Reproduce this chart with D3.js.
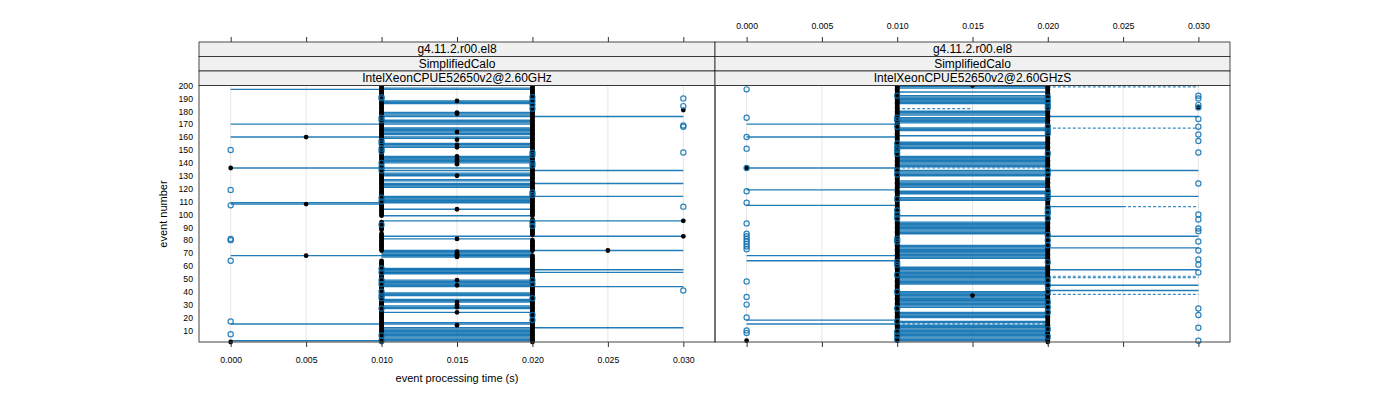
<!DOCTYPE html>
<html><head><meta charset="utf-8">
<script src="https://cdn.jsdelivr.net/npm/d3@7"></script>
<style>body{margin:0;background:#fff}svg{font-family:"Liberation Sans",Arial,sans-serif}</style>
</head><body><svg id="c" width="1400" height="400"></svg>
<script>
// ---------- data ----------
const xTicks = [0.000, 0.005, 0.010, 0.015, 0.020, 0.025, 0.030];
const yTicks = [10,20,30,40,50,60,70,80,90,100,110,120,130,140,150,160,170,180,190,200];
const stripLevels = ["g4.11.2.r00.el8", "SimplifiedCalo"];
const machines = ["IntelXeonCPUE52650v2@2.60GHz", "IntelXeonCPUE52650v2@2.60GHzS"];

// panel 1 (left)
const leftBand = [[198,198],[186,188],[177,179],[171,173],[162,167],[159,159],[152,155],[140,145],[130,132],[126,127],[121,123],[110,113],[104,104],[99,99],[81,81],[67,71],[54,58],[45,49],[37,39],[32,34],[27,29],[24,24],[16,16],[3,11]];
const leftSegs = [[197,0,0.02],[170,0,0.02],[160,0,0.02],[136,0,0.02],[109,0,0.02],[108,0,0.01],[68,0,0.02],[15,0,0.02],[2,0,0.02],
  [176,0.01,0.03],[134,0.01,0.03],[124,0.01,0.03],[114,0.01,0.03],[95,0.01,0.03],[83,0.01,0.03],[72,0.01,0.03],[57,0.01,0.03],[55,0.01,0.03],[44,0.01,0.03],[12,0.01,0.03]];
const leftDashed = [];
const leftBlack010 = [[1,64],[72,85],[88,94],[99,200]];
const leftBlack020 = [[1,68],[72,80],[84,96],[99,200]];
const leftBlackPts = [[160,0.005],[108,0.005],[68,0.005],[136,0],[1,0],[181,0.03],[95,0.03],[83,0.03],[72,0.025],
  [188,0.015],[179,0.015],[178,0.015],[164,0.015],[158,0.015],[154,0.015],[152,0.015],[145,0.015],[143,0.015],[141,0.015],[139,0.015],[130,0.015],[104,0.015],[81,0.015],[71,0.015],[70,0.015],[69,0.015],[68,0.015],[67,0.015],[49,0.015],[45,0.015],[32,0.015],[30,0.015],[28,0.015],[24,0.015],[14,0.015]];
const leftRuns000 = [150,119,107,81,80,64,17,7];
const leftRuns010 = [191,190,175,173,157,155,151,149,140,137,134,113,110,92,58,55,49,46,40,37,35,27,6,2];
const leftRuns020 = [191,188,185,182,148,146,140,138,117,115,94,91,49,46,35,22,18];
const leftRuns030 = [190,184,169,168,148,106,41];

// panel 2 (right)
const rightBand = [[198,200],[195,195],[186,192],[177,180],[171,175],[165,167],[161,161],[151,156],[137,145],[130,134],[121,126],[116,118],[111,113],[99,99],[85,94],[66,76],[46,59],[28,40],[20,24],[16,17],[2,14]];
const rightSegs = [[170,0,0.01],[160,0,0.01],[136,0,0.01],[119,0,0.01],[107,0,0.01],[68,0,0.01],[64,0,0.01],[18,0,0.01],[15,0,0.01],
  [176,0.02,0.03],[134,0.02,0.03],[114,0.02,0.03],[106,0.02,0.025],[83,0.02,0.03],[74,0.02,0.03],[57,0.02,0.03],[45,0.02,0.03],[41,0.02,0.03]];
const rightDashed = [[182,0.01,0.015],[136,0.01,0.02],[15,0.01,0.02],[199,0.02,0.03],[167,0.02,0.03],[52,0.02,0.03],[51,0.02,0.03],[38,0.02,0.03],[106,0.025,0.03]];
const rightBlack010 = [[2,200]];
const rightBlack020 = [[1,200]];
const rightBlackPts = [[200,0.015],[37,0.015],[136,0],[2,0],[183,0.03]];
const rightRuns000 = [197,175,160,151,136,118,109,93,85,83,81,79,77,75,73,48,36,30,20,10,8];
const rightRuns010 = [192,175,173,168,155,152,150,147,134,131,112,103,100,97,81,79,63,61,53,40,27,17,9,6,3];
const rightRuns020 = [191,188,185,183,168,165,163,147,134,131,118,115,113,105,102,101,97,84,80,76,63,49,45,40,32,28,24,11,5];
const rightRuns030 = [192,190,185,183,174,168,162,157,148,124,100,96,89,87,79,72,65,61,55,27,22,12,2];

// ---------- build ----------
function expand(ranges){const o=[];ranges.forEach(([a,b])=>{for(let e=a;e<=b;e++)o.push(e);});return o;}
const panels = [
  {x0:199, w:516, machine:machines[0], band:leftBand, segs:leftSegs, dashed:leftDashed, b010:leftBlack010, b020:leftBlack020, bpts:leftBlackPts,
   runs:[[0,leftRuns000],[0.01,leftRuns010],[0.02,leftRuns020],[0.03,leftRuns030]], bottomLabels:true, topLabels:false},
  {x0:715, w:515, machine:machines[1], band:rightBand, segs:rightSegs, dashed:rightDashed, b010:rightBlack010, b020:rightBlack020, bpts:rightBlackPts,
   runs:[[0,rightRuns000],[0.01,rightRuns010],[0.02,rightRuns020],[0.03,rightRuns030]], bottomLabels:false, topLabels:true}
];
const svg = d3.select("#c");
const plotTop = 85.5, plotBot = 342, stripH = 14.5, nStrips = 3;
const y = d3.scaleLinear().domain([1,200]).range([plotBot, plotTop]);
const BLUE = "#0a6eaf";

panels.forEach((p,pi)=>{
  const x = d3.scaleLinear().domain([-0.0021, 0.0321]).range([p.x0, p.x0+p.w]);
  const g = svg.append("g");
  g.selectAll("line.grid").data(xTicks).join("line")
    .attr("x1",d=>x(d)).attr("x2",d=>x(d)).attr("y1",plotTop).attr("y2",plotBot)
    .attr("stroke","#e6e6e6").attr("stroke-width",1);
  const segs = expand(p.band).map(e=>[e,0.01,0.02]).concat(p.segs);
  g.selectAll("line.seg").data(segs).join("line")
    .attr("x1",d=>x(d[1])).attr("x2",d=>x(d[2])).attr("y1",d=>y(d[0])).attr("y2",d=>y(d[0]))
    .attr("stroke",BLUE).attr("stroke-opacity",0.9).attr("stroke-width",1.4);
  g.selectAll("line.dash").data(p.dashed).join("line")
    .attr("x1",d=>x(d[1])).attr("x2",d=>x(d[2])).attr("y1",d=>y(d[0])).attr("y2",d=>y(d[0]))
    .attr("stroke",BLUE).attr("stroke-opacity",0.8).attr("stroke-width",1.2).attr("stroke-dasharray","3,2");
  const bl = expand(p.b010).map(e=>[e,0.01]).concat(expand(p.b020).map(e=>[e,0.02])).concat(p.bpts);
  g.selectAll("circle.b").data(bl).join("circle")
    .attr("cx",d=>x(d[1])).attr("cy",d=>y(d[0])).attr("r",2.4).attr("fill","#000");
  const runs = [];
  p.runs.forEach(([xv,evs])=>evs.forEach(e=>runs.push([e,xv])));
  g.selectAll("circle.r").data(runs).join("circle")
    .attr("cx",d=>x(d[1])).attr("cy",d=>y(d[0])).attr("r",2.6)
    .attr("fill","none").attr("stroke",BLUE).attr("stroke-opacity",0.85).attr("stroke-width",1.2);
  g.append("rect").attr("x",p.x0).attr("y",plotTop).attr("width",p.w).attr("height",plotBot-plotTop)
    .attr("fill","none").attr("stroke","#444").attr("stroke-width",1);
  const labels = [stripLevels[0], stripLevels[1], p.machine];
  labels.forEach((t,i)=>{
    const sy = plotTop - stripH*(nStrips-i);
    g.append("rect").attr("x",p.x0).attr("y",sy).attr("width",p.w).attr("height",stripH)
      .attr("fill","#f0f0f0").attr("stroke","#222").attr("stroke-width",0.8);
    g.append("text").attr("x",p.x0+p.w/2).attr("y",sy+stripH/2+4.2).attr("text-anchor","middle")
      .attr("font-size","12px").attr("fill","#000").text(t);
  });
  const stripTop = plotTop - stripH*nStrips;
  const bax = g.append("g").attr("transform",`translate(0,${plotBot})`)
    .call(d3.axisBottom(x).tickValues(xTicks).tickFormat(p.bottomLabels?d3.format(".3f"):()=> "").tickSize(5).tickPadding(10));
  bax.select(".domain").remove();
  bax.selectAll("line").attr("stroke","#333");
  bax.selectAll("text").attr("font-size","8.7px").attr("font-family","Liberation Sans, Arial, sans-serif").attr("fill","#000");
  const tax = g.append("g").attr("transform",`translate(0,${stripTop})`)
    .call(d3.axisTop(x).tickValues(xTicks).tickFormat(p.topLabels?d3.format(".3f"):()=> "").tickSize(5).tickPadding(8));
  tax.select(".domain").remove();
  tax.selectAll("line").attr("stroke","#333");
  tax.selectAll("text").attr("font-size","8.7px").attr("font-family","Liberation Sans, Arial, sans-serif").attr("fill","#000");
  if(pi===0){
    const yax = g.append("g").attr("transform",`translate(${p.x0},0)`)
      .call(d3.axisLeft(y).tickValues(yTicks).tickSize(0).tickPadding(6));
    yax.select(".domain").remove();
    yax.selectAll("text").attr("font-size","8.7px").attr("font-family","Liberation Sans, Arial, sans-serif").attr("fill","#000");
  }
});
svg.append("text").attr("x",457).attr("y",382).attr("text-anchor","middle").attr("font-size","11px").text("event processing time (s)");
svg.append("text").attr("transform","translate(167,214) rotate(-90)").attr("text-anchor","middle").attr("font-size","11px").text("event number");
</script></body></html>
